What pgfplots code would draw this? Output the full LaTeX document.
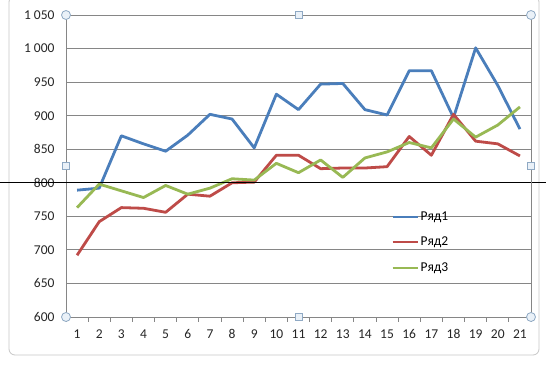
\documentclass[border=0pt]{standalone}
\usepackage{pgfplots}
\pgfplotsset{compat=1.18}
\usepackage{fontspec}
\setmainfont{Carlito}
\definecolor{s1}{HTML}{4A7EBB}
\definecolor{s2}{HTML}{BE4B48}
\definecolor{s3}{HTML}{98B954}
\definecolor{gridc}{HTML}{868686}
\definecolor{hdl}{HTML}{8FA9C4}
\definecolor{hdlfill}{HTML}{EAF1F8}
\begin{document}
\begin{tikzpicture}[x=1pt,y=1pt]
\fill[white] (0,0) rectangle (546,364);
\draw[black!22, line width=0.8pt, rounded corners=6pt] (9,9) rectangle (539,368);
\begin{axis}[at={(66pt,47pt)}, anchor=south west, scale only axis,
  width=465pt, height=302pt,
  xmin=0.5, xmax=21.5, ymin=600, ymax=1050,
  xtick={1,...,21}, minor xtick={0.5,1.5,...,21.5},
  major tick length=0pt, minor tick length=5pt, tick align=outside,
  xtick pos=bottom, ytick pos=left,
  ytick={600,650,...,1050},
  yticklabels={600,650,700,750,800,850,900,950,{1 000},{1 050}},
  /pgf/number format/assume math mode=true,
  ymajorgrids, grid style={gridc, line width=0.8pt},
  axis line style={gridc, line width=0.8pt},
  tick style={gridc, line width=0.8pt},
  ticklabel style={font=\fontsize{13.5}{15}\selectfont, text=black!85},
  xticklabel shift=9pt, yticklabel shift=8pt,
  legend style={draw=none, fill=none, at={(0.700,0.355)}, anchor=north west,
    font=\fontsize{13.5}{15}\selectfont, row sep=11pt, inner sep=0pt},
  legend cell align=left,
  legend image code/.code={\draw[#1, line width=2pt] (0pt,0pt) -- (25pt,0pt);},
  clip=false,
]
\addplot[s1, line width=2.8pt, line join=round] coordinates {
(1,789)(2,792)(3,870)(4,858)(5,847)(6,871)(7,902)(8,895)(9,852)(10,932)(11,909)
(12,947)(13,948)(14,909)(15,901)(16,967)(17,967)(18,897)(19,1001)(20,945)(21,880)};
\addlegendentry{Ряд1}
\addplot[s2, line width=2.8pt, line join=round] coordinates {
(1,692)(2,742)(3,763)(4,762)(5,756)(6,783)(7,780)(8,800)(9,801)(10,841)(11,841)
(12,821)(13,822)(14,822)(15,824)(16,869)(17,841)(18,902)(19,862)(20,858)(21,840)};
\addlegendentry{Ряд2}
\addplot[s3, line width=2.8pt, line join=round] coordinates {
(1,763)(2,798)(3,788)(4,778)(5,796)(6,783)(7,792)(8,806)(9,804)(10,829)(11,815)
(12,834)(13,808)(14,837)(15,846)(16,860)(17,852)(18,895)(19,868)(20,886)(21,913)};
\addlegendentry{Ряд3}
\addplot[black, line width=1.1pt, forget plot] coordinates {(-2.48,800)(22.18,800)};
\end{axis}
\draw[gridc, line width=0.8pt] (531,47) -- (531,349);
\foreach \x/\y in {66/349,531/349,66/47,531/47}
  \filldraw[draw=hdl, fill=hdlfill, line width=0.8pt] (\x,\y) circle (4.5);
\foreach \x/\y in {298.5/349,66/198,531/198,298.5/47}
  \filldraw[draw=hdl, fill=hdlfill, line width=0.8pt] (\x-3.5,\y-3.5) rectangle ++(7,7);
\pgfresetboundingbox
\path (0,0) rectangle (546,364);
\end{tikzpicture}
\end{document}
